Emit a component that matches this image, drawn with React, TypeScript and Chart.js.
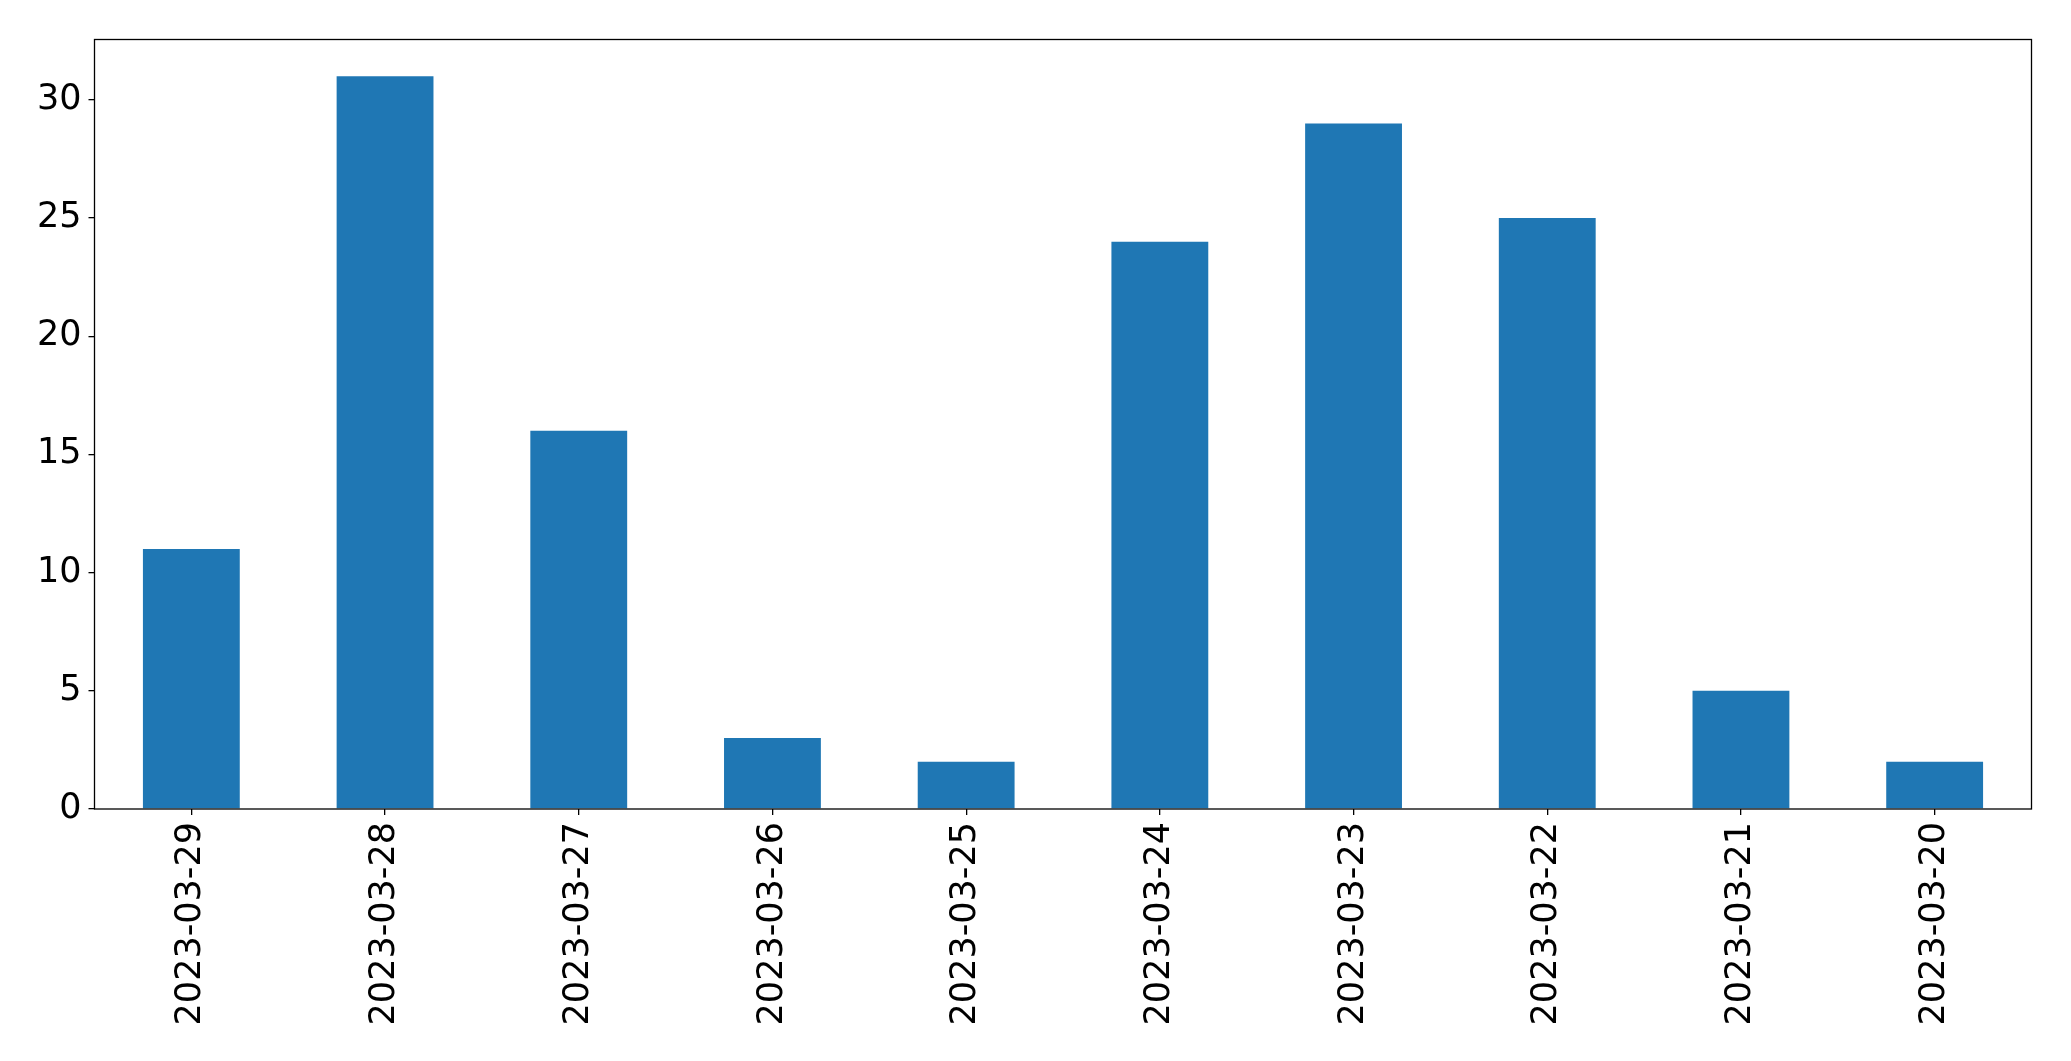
import React, { useEffect, useRef } from "react";
import { Chart, registerables } from "chart.js";

Chart.register(...registerables);

const categories = [
  "2023-03-29",
  "2023-03-28",
  "2023-03-27",
  "2023-03-26",
  "2023-03-25",
  "2023-03-24",
  "2023-03-23",
  "2023-03-22",
  "2023-03-21",
  "2023-03-20",
];
const counts = [11, 31, 16, 3, 2, 24, 29, 25, 5, 2];
const yTicks = [0, 5, 10, 15, 20, 25, 30];

const W = 2071;
const H = 1061;

const frame = {
  id: "frame",
  afterDatasetsDraw(chart: any) {
    const { ctx, chartArea } = chart;
    ctx.save();
    ctx.strokeStyle = "#000";
    ctx.lineWidth = 1.3;
    ctx.strokeRect(chartArea.left, chartArea.top, chartArea.right - chartArea.left, chartArea.bottom - chartArea.top);
    ctx.restore();
  },
};

export default function App() {
  const ref = useRef<HTMLCanvasElement | null>(null);
  useEffect(() => {
    if (!ref.current) return;
    const font = { family: "'DejaVu Sans', sans-serif", size: 35 };
    const chart = new Chart(ref.current, {
      type: "bar",
      data: {
        labels: categories,
        datasets: [
          {
            data: counts,
            backgroundColor: "#1f77b4",
            barPercentage: 0.5,
            categoryPercentage: 1,
          },
        ],
      },
      options: {
        responsive: false,
        animation: false,
        devicePixelRatio: 1,
        layout: { padding: { left: 0, right: 39.5, top: 39.5, bottom: 0 } },
        plugins: { legend: { display: false }, tooltip: { enabled: false } },
        scales: {
          x: {
            offset: true,
            grid: { display: true, offset: false, drawOnChartArea: false, drawTicks: true, tickLength: 6, color: "#000", lineWidth: 1.3 },
            border: { display: false },
            ticks: { color: "#000", font, minRotation: 90, maxRotation: 90, padding: 7, autoSkip: false },
            afterFit(scale: any) {
              scale.height = 252;
            },
          },
          y: {
            min: 0,
            max: 32.55,
            afterBuildTicks(scale: any) {
              scale.ticks = yTicks.map((v) => ({ value: v }));
            },
            grid: { display: true, drawOnChartArea: false, drawTicks: true, tickLength: 6, color: "#000", lineWidth: 1.3 },
            border: { display: false },
            ticks: { color: "#000", font, padding: 7 },
            afterFit(scale: any) {
              scale.width = 94.5;
            },
          },
        },
      },
      plugins: [frame],
    });
    return () => chart.destroy();
  }, []);
  return (
    <div style={{ position: "fixed", left: 0, top: 0, width: W, height: H, background: "#fff" }}>
      <canvas ref={ref} width={W} height={H} style={{ width: W, height: H, display: "block" }} />
    </div>
  );
}
